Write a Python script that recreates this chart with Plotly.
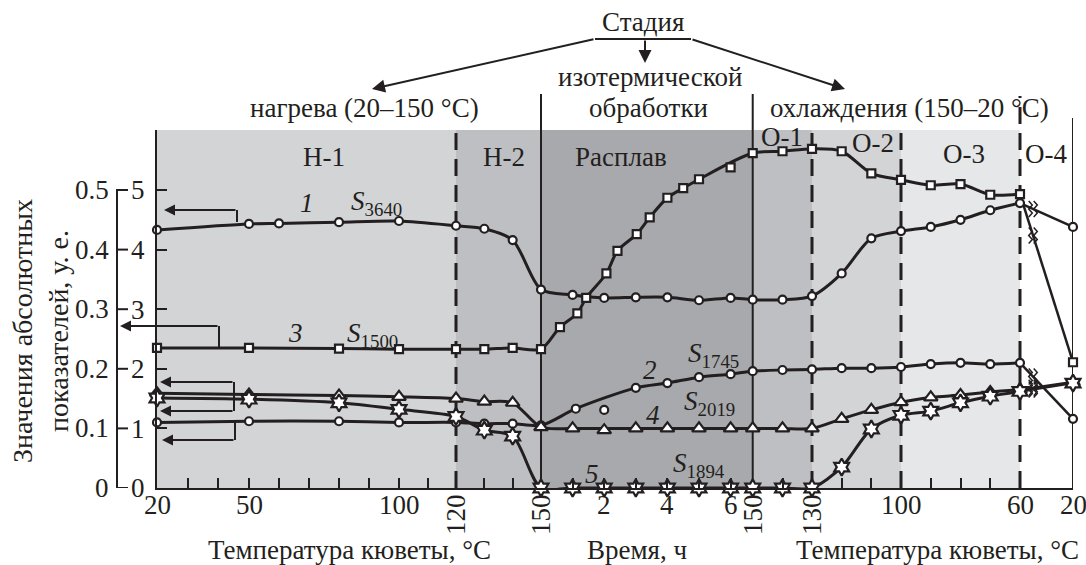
import numpy as np
import plotly.graph_objects as go

# ---------------- axis scale definitions (piecewise x axis) ----------------
HEAT_T_ANCHORS = [20, 50, 100, 120, 150]
HEAT_U_ANCHORS = [157, 249, 399, 456, 541]
TIME_U0, TIME_UPH, TIME_END = 541, 31.6, 6.7
COOL_T_ANCHORS = [20, 60, 100, 130, 150]
COOL_U_ANCHORS = [1073, 1020, 901, 812, 753]

# ---------------- data ----------------
COOL_T = [140, 130, 120, 110, 100, 90, 80, 70, 60, 20]

# curve 1, S3640 (circles)
S3640_HEAT_T = [20, 50, 60, 80, 100, 120, 130, 140, 150]
S3640_HEAT = [4.33, 4.43, 4.44, 4.46, 4.48, 4.40, 4.35, 4.16, 3.33]
S3640_TIME_T = [0, 1, 2, 3, 4, 5, 6, 6.7]
S3640_TIME = [3.33, 3.24, 3.19, 3.20, 3.20, 3.15, 3.19, 3.16]
S3640_COOL = [3.16, 3.22, 3.60, 4.19, 4.31, 4.38, 4.50, 4.66, 4.78, 4.38]

# curve 3, S1500 (squares)
S1500_HEAT_T = [20, 50, 80, 100, 120, 130, 140, 150]
S1500_HEAT = [2.35, 2.35, 2.34, 2.33, 2.33, 2.33, 2.35, 2.33]
S1500_TIME_T = [0, 0.6, 1.15, 1.43, 2.07, 2.42, 3.03, 3.44, 4.0, 4.5, 5.0, 6.0, 6.7]
S1500_TIME = [2.33, 2.70, 2.93, 3.19, 3.60, 3.98, 4.26, 4.54, 4.87, 5.03, 5.18, 5.38, 5.62]
S1500_TIME_ON = [1, 1, 1, 1, 1, 1, 1, 1, 1, 1, 1, 0, 1]
S1500_COOL = [5.65, 5.69, 5.65, 5.28, 5.17, 5.08, 5.10, 4.92, 4.93, 2.11]

# curve 2, S1745 (circles)
S1745_HEAT_T = [20, 50, 80, 100, 120, 130, 140, 150]
S1745_HEAT = [1.10, 1.12, 1.12, 1.10, 1.10, 1.08, 1.08, 1.05]
S1745_TIME_T = [0, 1.1, 2, 3, 4, 5, 6, 6.7]
S1745_TIME = [1.05, 1.33, 1.31, 1.68, 1.76, 1.86, 1.91, 1.96]
S1745_TIME_ON = [1, 1, 0, 1, 1, 1, 1, 1]
S1745_COOL = [1.98, 1.99, 2.01, 2.01, 2.03, 2.08, 2.10, 2.08, 2.10, 1.16]

# curve 4, S2019 (triangles)
S2019_HEAT_T = [20, 50, 80, 100, 120, 130, 140, 150]
S2019_HEAT = [1.59, 1.57, 1.55, 1.53, 1.50, 1.45, 1.43, 1.02]
S2019_TIME_T = [0, 1, 2, 3, 4, 5, 6, 6.7]
S2019_TIME = [1.02, 1.00, 0.97, 1.00, 1.00, 1.00, 1.00, 1.00]
S2019_TIME_ON = [1, 1, 0, 1, 1, 1, 1, 1]
S2019_COOL = [1.00, 1.00, 1.16, 1.31, 1.44, 1.52, 1.56, 1.61, 1.65, 1.78]

# curve 5, S1894 (stars)
S1894_HEAT_T = [20, 50, 80, 100, 120, 130, 140, 150]
S1894_HEAT = [1.51, 1.49, 1.43, 1.32, 1.20, 0.97, 0.87, 0.0]
S1894_TIME_T = [0, 1, 2, 3, 4, 5, 6, 6.7]
S1894_TIME = [0.0, 0.0, 0.0, 0.0, 0.0, 0.0, 0.0, 0.0]
S1894_COOL = [0.0, 0.0, 0.35, 0.99, 1.22, 1.29, 1.43, 1.54, 1.62, 1.76]

Y_INNER_TICKS = [0, 1, 2, 3, 4, 5]
Y_OUTER_LABELS = ["0", "0.1", "0.2", "0.3", "0.4", "0.5"]
HEAT_MINOR = [30, 40, 50, 60, 70, 80, 90, 100, 110, 130, 140]
TIME_MINOR = [1, 2, 3, 4, 5, 6]
COOL_MINOR = [140, 120, 110, 90, 80, 70]
HEAT_LABELS = [20, 50, 100]
HEAT_LABELS_ROT = [120, 150]
TIME_LABELS = [2, 4, 6]
COOL_LABELS_ROT = [150, 130]
COOL_LABELS = [100, 60, 20]

# ---------------- layout geometry ----------------
W, H = 1086, 565
PL, PR, PT, PB = 157, 1073, 130, 488
Y_MAX = (PB - PT) / 59.6
FONT = "Liberation Serif"
INK = "#231f20"
FS = 27


def u_heat(T):
    return np.interp(np.asarray(T, float), HEAT_T_ANCHORS, HEAT_U_ANCHORS)


def u_time(t):
    return TIME_U0 + TIME_UPH * np.asarray(t, float)


def u_cool(T):
    return np.interp(np.asarray(T, float), COOL_T_ANCHORS, COOL_U_ANCHORS)


def xp(px):
    return (px - PL) / (PR - PL)


def yp(py):
    return (PB - py) / (PB - PT)


fig = go.Figure()

# ---------------- backgrounds ----------------
regions = [
    (PL, u_heat(120), "#d3d4d6"),
    (u_heat(120), u_heat(150), "#bebfc2"),
    (u_time(0), u_time(TIME_END), "#a8a9ac"),
    (u_time(TIME_END), u_cool(130), "#bebfc2"),
    (u_cool(130), u_cool(100), "#d3d4d6"),
    (u_cool(100), u_cool(60), "#e6e7e8"),
]
shapes = []
for x0, x1, c in regions:
    shapes.append(dict(type="rect", xref="x", yref="paper", x0=float(x0), x1=float(x1), y0=0, y1=1,
                       fillcolor=c, line=dict(width=0), layer="below"))

DASH = "17px,9px"
vlines = [
    (u_heat(120), 1.0, DASH, 3),
    (u_heat(150), yp(94), "solid", 2),
    (u_time(TIME_END), yp(94), "solid", 2),
    (u_cool(130), 1.0, DASH, 3),
    (u_cool(100), 1.0, DASH, 3),
    (u_cool(60), yp(96), DASH, 3),
    (u_cool(20), yp(118), "solid", 2),
]
for x, ytop, dash, w in vlines:
    shapes.append(dict(type="line", xref="x", yref="paper", x0=float(x), x1=float(x), y0=0, y1=ytop,
                       line=dict(color=INK, width=w, dash=dash), layer="below"))

# outer left axis (0..0.5)
shapes.append(dict(type="line", xref="paper", yref="y", x0=xp(117), x1=xp(117), y0=0, y1=5,
                   line=dict(color=INK, width=2)))
for v in Y_INNER_TICKS:
    shapes.append(dict(type="line", xref="paper", yref="y", x0=xp(116), x1=xp(128), y0=v, y1=v,
                       line=dict(color=INK, width=2)))

# header bar
shapes.append(dict(type="line", xref="paper", yref="paper", x0=xp(595), x1=xp(691), y0=yp(39), y1=yp(39),
                   line=dict(color=INK, width=2)))

# ---------------- series ----------------
def build(heat_t, heat_v, time_t, time_v, cool_v, time_on=None):
    xs = np.concatenate([u_heat(heat_t), u_time(time_t), u_cool(COOL_T)])
    ys = np.concatenate([heat_v, time_v, cool_v]).astype(float)
    on = np.concatenate([np.ones(len(heat_t)), np.asarray(time_on if time_on else [1] * len(time_t)),
                         np.ones(len(COOL_T))]).astype(bool)
    keep = np.ones(len(xs), bool)
    keep[1:] = np.abs(np.diff(xs)) > 1e-6
    return xs[keep], ys[keep], on[keep]


series = [
    (build(S3640_HEAT_T, S3640_HEAT, S3640_TIME_T, S3640_TIME, S3640_COOL), "circle", 8),
    (build(S1500_HEAT_T, S1500_HEAT, S1500_TIME_T, S1500_TIME, S1500_COOL, S1500_TIME_ON), "square", 8),
    (build(S1745_HEAT_T, S1745_HEAT, S1745_TIME_T, S1745_TIME, S1745_COOL, S1745_TIME_ON), "circle", 8),
    (build(S2019_HEAT_T, S2019_HEAT, S2019_TIME_T, S2019_TIME, S2019_COOL, S2019_TIME_ON), "triangle-up", 12),
    (build(S1894_HEAT_T, S1894_HEAT, S1894_TIME_T, S1894_TIME, S1894_COOL), "hexagram", 13),
]
for (xs, ys, on), sym, size in series:
    lx, ly = xs[on], ys[on]
    # smooth part up to 60 degC on cooling
    fig.add_trace(go.Scatter(x=lx[:-1], y=ly[:-1], mode="lines", cliponaxis=False,
                             line=dict(color=INK, width=3, shape="spline", smoothing=0.8),
                             hoverinfo="skip", showlegend=False))
    # broken segment 60 -> 20 degC
    fig.add_trace(go.Scatter(x=lx[-2:], y=ly[-2:], mode="lines", cliponaxis=False,
                             line=dict(color=INK, width=2.5), hoverinfo="skip", showlegend=False))
for (xs, ys, on), sym, size in series:
    fig.add_trace(go.Scatter(x=xs, y=ys, mode="markers", cliponaxis=False,
                             marker=dict(symbol=sym, size=size, color="white",
                                         line=dict(color=INK, width=2.2)),
                             showlegend=False))

# break (zigzag) marks between 60 and 20 degC on every curve
ub = 1033.0
for (xs, ys, on), sym, size in series:
    yb = float(np.interp(ub, xs[-2:], ys[-2:]))
    for dx in (-2.5, 2.5):
        pts = []
        for k, dy in enumerate([-8, -4, 0, 4, 8]):
            px = ub + dx + (1.8 if k % 2 else -1.8)
            pts.append((px, yb + dy / 59.6))
        path = "M " + " L ".join(f"{p[0]:.2f},{p[1]:.4f}" for p in pts)
        shapes.append(dict(type="path", xref="x", yref="y", path=path,
                           line=dict(color=INK, width=1.5)))

# ---------------- annotations ----------------
ann = []


def text(x, y, s, size=FS, xref="paper", yref="paper", xanchor="center", yanchor="middle", angle=0):
    ann.append(dict(x=x, y=y, xref=xref, yref=yref, text=s, showarrow=False, xanchor=xanchor,
                    yanchor=yanchor, textangle=angle, font=dict(family=FONT, size=size, color=INK)))


def arrow(tip, tail, width=2, size=1.2):
    ann.append(dict(x=xp(tip[0]), y=yp(tip[1]), xref="paper", yref="paper", text="", showarrow=True,
                    ax=tail[0] - tip[0], ay=tail[1] - tip[1], axref="pixel", ayref="pixel",
                    arrowhead=2, arrowsize=size, arrowwidth=width, arrowcolor=INK, standoff=0))


# header
text(xp(643), yp(22), "Стадия")
text(xp(650), yp(77), "изотермической")
text(xp(648), yp(108), "обработки")
text(xp(364), yp(108), "нагрева (20–150 °С)")
text(xp(909), yp(108), "охлаждения (150–20 °С)")
arrow((372, 89), (595, 39), width=2, size=1.3)
arrow((645, 63), (645, 39), width=2, size=1.3)
arrow((845, 89), (691, 39), width=2, size=1.3)

# region labels
for s, x, y in [("Н-1", 324, 157), ("Н-2", 504, 157), ("Расплав", 621, 157), ("О-1", 782, 137),
                ("О-2", 873, 143), ("О-3", 964, 154), ("О-4", 1046, 154)]:
    text(xp(x), yp(y), s)

# curve labels
for s, x, y, anc in [("<i>1</i>", 307, 203, "center"), ("<i>S</i><sub>3640</sub>", 349, 203, "left"),
                     ("<i>3</i>", 295, 333, "center"), ("<i>S</i><sub>1500</sub>", 345, 335, "left"),
                     ("<i>2</i>", 650, 370, "center"), ("<i>S</i><sub>1745</sub>", 686, 355, "left"),
                     ("<i>4</i>", 653, 415, "center"), ("<i>S</i><sub>2019</sub>", 682, 403, "left"),
                     ("<i>5</i>", 592, 474, "center"), ("<i>S</i><sub>1894</sub>", 671, 465, "left")]:
    text(xp(x), yp(y), s, size=FS, xanchor=anc)

# left indicator arrows
def bracket(x, y0, y1):
    shapes.append(dict(type="line", xref="paper", yref="paper", x0=xp(x), x1=xp(x), y0=yp(y0), y1=yp(y1),
                       line=dict(color=INK, width=2)))


bracket(237, 222, 210)
arrow((164, 210), (237, 210), width=2, size=1.1)
bracket(219, 347, 326)
arrow((120, 326), (219, 326), width=2, size=1.1)
bracket(234, 382, 411)
arrow((160, 382), (234, 382), width=2, size=1.1)
arrow((160, 411), (234, 411), width=2, size=1.1)
bracket(235, 422, 440)
arrow((162, 440), (235, 440), width=2, size=1.1)

# outer y labels
for v, lab in zip(Y_INNER_TICKS, Y_OUTER_LABELS):
    text(xp(111), v, lab, size=FS, yref="y", xanchor="right")

# y title
text(xp(40), yp(331), "Значения абсолютных<br>показателей, у. е.", size=28, angle=-90)

# x tick labels
LAB_Y = yp(505)
for T in HEAT_LABELS:
    text(float(u_heat(T)), LAB_Y, str(T), xref="x")
for T in HEAT_LABELS_ROT:
    text(float(u_heat(T)), yp(515), str(T), xref="x", angle=-90)
for t in TIME_LABELS:
    text(float(u_time(t)), LAB_Y, str(t), xref="x")
for T in COOL_LABELS_ROT:
    text(float(u_cool(T)), yp(515), str(T), xref="x", angle=-90)
for T in COOL_LABELS:
    text(float(u_cool(T)), LAB_Y, str(T), xref="x")

# x titles
text(xp(349), yp(550), "Температура кюветы, °С")
text(xp(637), yp(550), "Время, ч")
text(xp(937), yp(550), "Температура кюветы, °С")

tickvals = list(u_heat(HEAT_MINOR)) + list(u_time(TIME_MINOR)) + list(u_cool(COOL_MINOR))

fig.update_layout(
    width=W, height=H,
    margin=dict(l=PL, r=W - PR, t=PT, b=H - PB, pad=0),
    paper_bgcolor="white", plot_bgcolor="white",
    shapes=shapes, annotations=ann,
    xaxis=dict(range=[PL, PR], showgrid=False, zeroline=False, showline=True, linecolor=INK, linewidth=2,
               ticks="inside", ticklen=10, tickwidth=2, tickcolor=INK,
               tickvals=[float(v) for v in tickvals], showticklabels=False, fixedrange=True),
    yaxis=dict(range=[0, Y_MAX], showgrid=False, zeroline=False, showline=True, linecolor=INK, linewidth=2,
               ticks="inside", ticklen=10, tickwidth=2, tickcolor=INK, tickvals=Y_INNER_TICKS,
               ticktext=[str(v) for v in Y_INNER_TICKS], ticklabelstandoff=5,
               tickfont=dict(family=FONT, size=FS, color=INK), fixedrange=True),
    font=dict(family=FONT, color=INK),
)

fig.write_html("out.html")
